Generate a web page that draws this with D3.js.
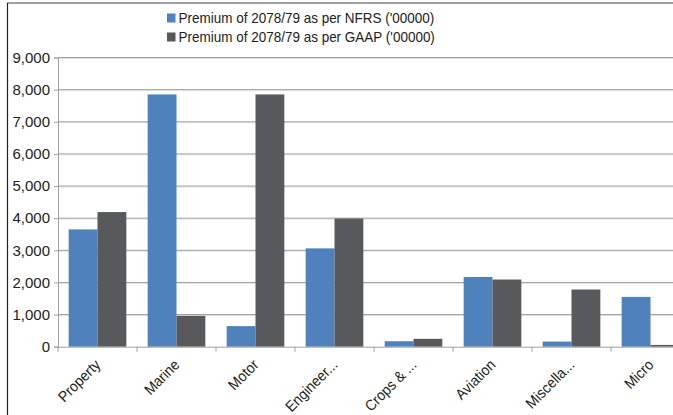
<!DOCTYPE html>
<html>
<head>
<meta charset="utf-8">
<script src="https://cdn.jsdelivr.net/npm/d3@7"></script>
<style>
body { margin: 0; background: #fff; }
svg { display: block; font-family: "Liberation Sans", Arial, sans-serif; }
</style>
</head>
<body>
<svg id="chart"></svg>
<script>
var categories = ["Property", "Marine", "Motor", "Engineer...", "Crops & ...", "Aviation", "Miscella...", "Micro"]
var nfrs = [3650, 7850, 640, 3060, 170, 2170, 160, 1550]
var gaap = [4190, 960, 7850, 3990, 245, 2090, 1780, 55]
var seriesNames = ["Premium of 2078/79 as per NFRS ('00000)", "Premium of 2078/79 as per GAAP ('00000)"]
var yTicks = [0, 1000, 2000, 3000, 4000, 5000, 6000, 7000, 8000, 9000]
var colors = ["#4f81bd", "#58595b"]

var screen = {width: 673, height: 415}
var plot = {left: 58, right: 690, top: 57.5, bottom: 346.7}

var svg = d3.select("#chart")
    .attr("width", screen.width)
    .attr("height", screen.height)

// frame (only top and left edges show)
svg.append("line")
    .attr("x1", 7).attr("x2", screen.width)
    .attr("y1", 3).attr("y2", 3)
    .attr("stroke", "#808080").attr("stroke-width", 1.5)
svg.append("line")
    .attr("x1", 7.5).attr("x2", 7.5)
    .attr("y1", 3).attr("y2", screen.height)
    .attr("stroke", "#222").attr("stroke-width", 1.2)

var xScale = d3.scaleBand()
    .domain(categories)
    .range([plot.left, plot.right])

var inner = d3.scaleBand()
    .domain([0, 1])
    .range([0, xScale.bandwidth()])
    .paddingOuter(0.37)

var yScale = d3.scaleLinear()
    .domain([0, 9000])
    .range([plot.bottom, plot.top])

// gridlines
var grid = svg.append("g")
grid.selectAll("line.shadow")
    .data(yTicks.slice(1))
    .enter()
    .append("line")
    .attr("class", "shadow")
    .attr("x1", plot.left).attr("x2", screen.width)
    .attr("y1", function (d) { return yScale(d) + 1 })
    .attr("y2", function (d) { return yScale(d) + 1 })
    .attr("stroke", "#e2e2e2")
grid.selectAll("line.main")
    .data(yTicks.slice(1))
    .enter()
    .append("line")
    .attr("class", "main")
    .attr("x1", plot.left).attr("x2", screen.width)
    .attr("y1", function (d) { return yScale(d) })
    .attr("y2", function (d) { return yScale(d) })
    .attr("stroke", "#a0a0a0")

// bars
var groups = svg.append("g")
    .selectAll("g")
    .data(categories)
    .enter()
    .append("g")
    .attr("transform", function (c) { return "translate(" + xScale(c) + ",0)" })

groups.selectAll("rect")
    .data(function (c, i) { return [nfrs[i], gaap[i]] })
    .enter()
    .append("rect")
    .attr("x", function (v, s) { return inner(s) })
    .attr("width", inner.bandwidth())
    .attr("y", function (v) { return yScale(v) })
    .attr("height", function (v) { return yScale(0) - yScale(v) })
    .attr("fill", function (v, s) { return colors[s] })

// axes
var yAxis = d3.axisLeft(yScale)
    .tickValues(yTicks)
    .tickSize(4)
    .tickPadding(4)
    .tickFormat(d3.format(","))
var xAxis = d3.axisBottom(xScale)
    .tickSize(0)
    .tickFormat("")

var ya = svg.append("g")
    .attr("transform", "translate(" + plot.left + ",0)")
    .call(yAxis)
var xa = svg.append("g")
    .attr("transform", "translate(0," + plot.bottom + ")")
    .call(xAxis)

ya.select(".domain").attr("stroke", "#a0a0a0")
ya.selectAll(".tick line").attr("stroke", "#a0a0a0")
ya.selectAll(".tick text")
    .attr("font-size", 15)
    .attr("fill", "#222")
    .attr("font-family", "Liberation Sans, Arial, sans-serif")
xa.select(".domain").attr("stroke", "#a0a0a0")

// category boundary ticks
svg.append("g")
    .selectAll("line")
    .data(categories)
    .enter()
    .append("line")
    .attr("x1", function (c) { return xScale(c) })
    .attr("x2", function (c) { return xScale(c) })
    .attr("y1", plot.bottom)
    .attr("y2", plot.bottom + 5)
    .attr("stroke", "#a0a0a0")

// rotated category labels
svg.append("g")
    .selectAll("text")
    .data(categories)
    .enter()
    .append("text")
    .text(function (c) { return c })
    .attr("text-anchor", "end")
    .attr("font-size", 15)
    .attr("fill", "#222")
    .attr("transform", function (c) {
        return "translate(" + (xScale(c) + xScale.bandwidth() / 2 + 4) + "," + (plot.bottom + 19) + ") rotate(-45) scale(0.93,1)"
    })

// legend
var legend = svg.append("g")
    .selectAll("g")
    .data(seriesNames)
    .enter()
    .append("g")
    .attr("transform", function (d, i) { return "translate(167," + (13.5 + i * 19) + ")" })
legend.append("rect")
    .attr("width", 8.5).attr("height", 9)
    .attr("fill", function (d, i) { return colors[i] })
legend.append("text")
    .text(function (d) { return d })
    .attr("transform", "translate(11.5,9.5) scale(0.9,1)")
    .attr("font-size", 15)
    .attr("fill", "#222")
</script>
</body>
</html>
